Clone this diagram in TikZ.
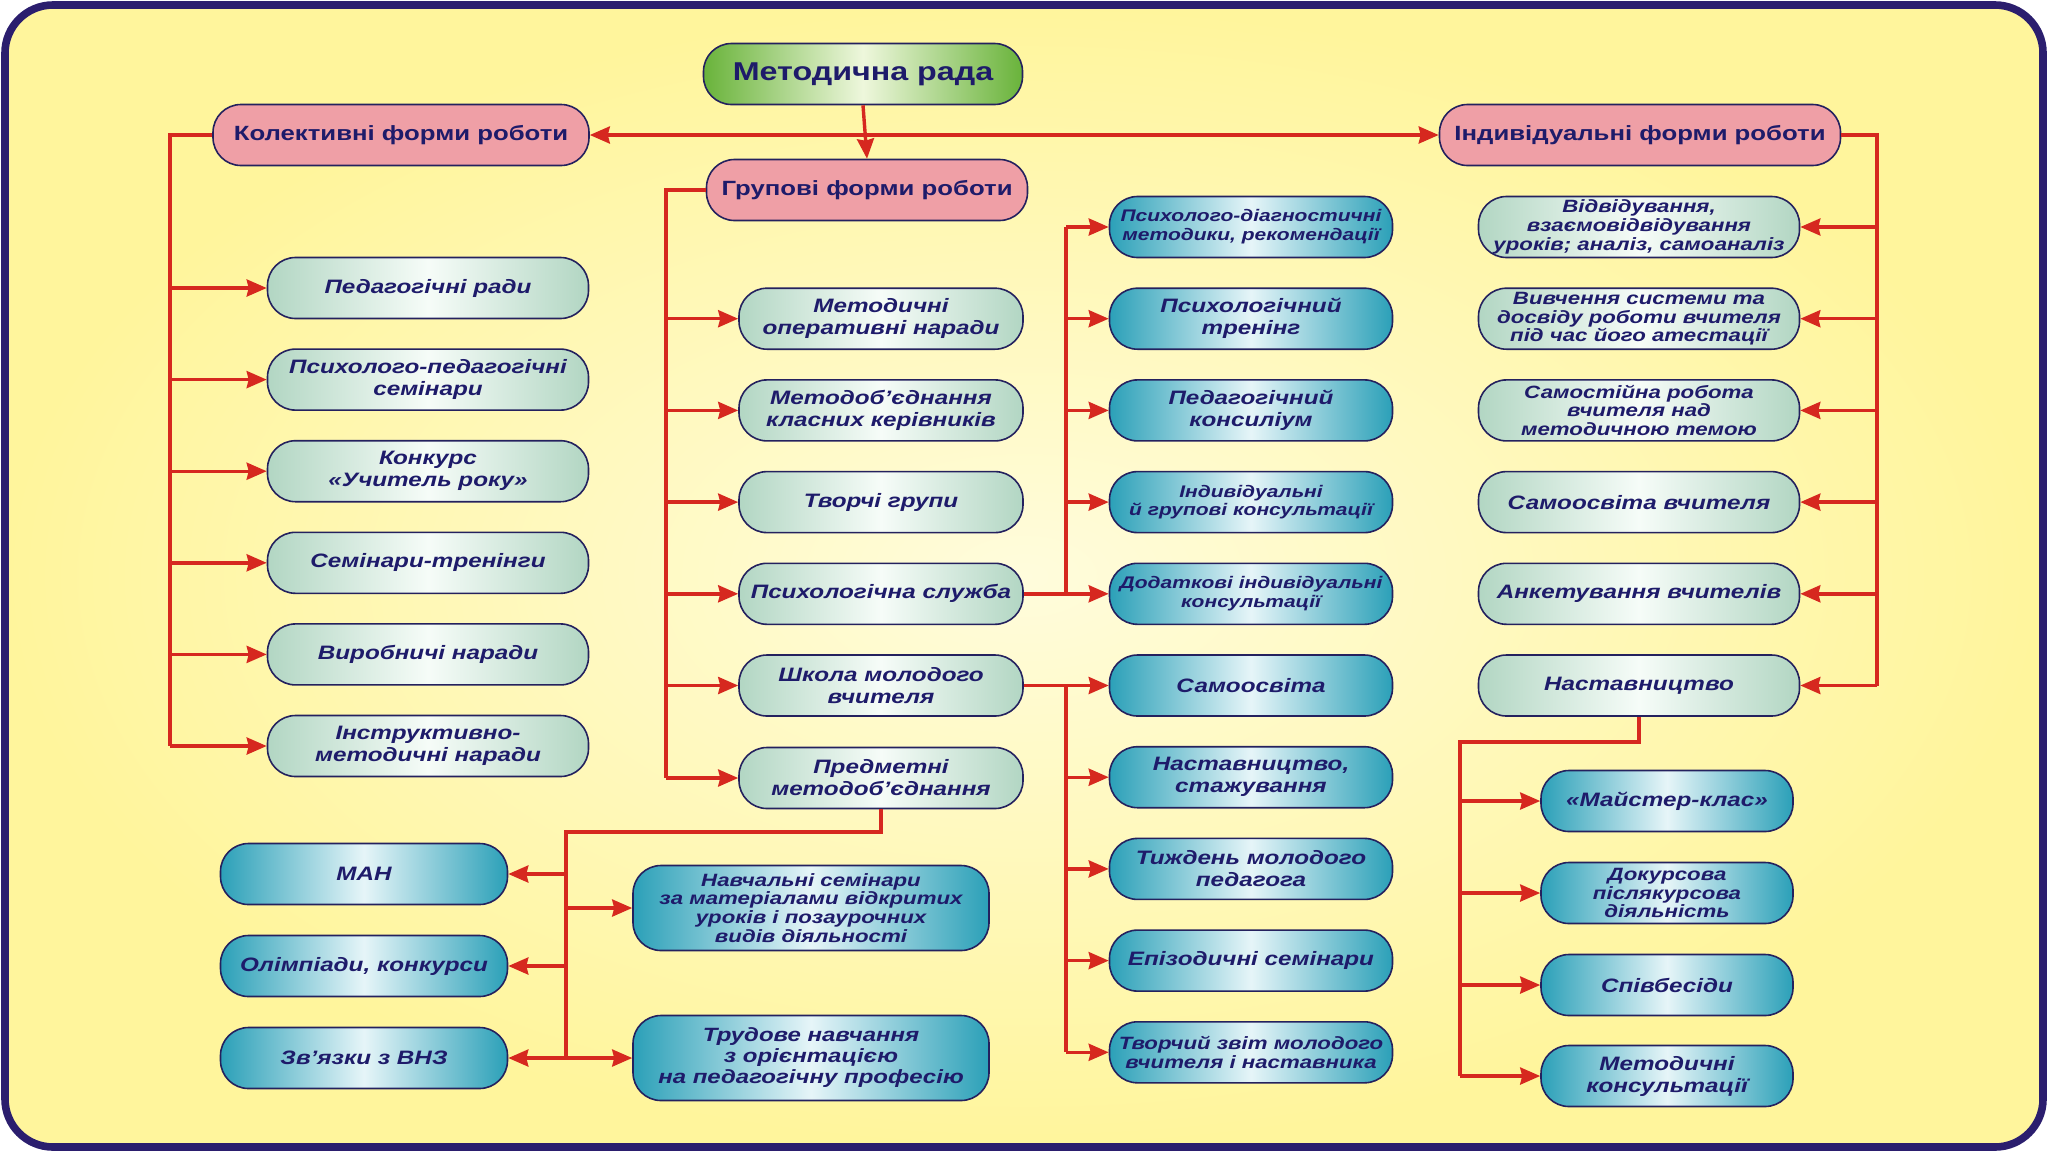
\documentclass[tikz,border=0pt]{standalone}
\usepackage{fontspec}
\setmainfont[FakeStretch=1.25]{Liberation Sans}
\usetikzlibrary{arrows.meta}
\definecolor{navy}{HTML}{1E1B6A}
\definecolor{bordc}{HTML}{24215E}
\definecolor{framec}{HTML}{2B1E6E}
\definecolor{redc}{HTML}{D6281F}
\definecolor{lg}{HTML}{B2D6C3}
\definecolor{lgc}{HTML}{F6FCF8}
\definecolor{tl}{HTML}{2BA0B8}
\definecolor{tlc}{HTML}{E6F5F8}
\definecolor{pinkc}{HTML}{EF9FA6}
\definecolor{grn}{HTML}{69B33A}
\definecolor{grnc}{HTML}{EEF7DC}
\definecolor{yel}{HTML}{FFF59C}
\definecolor{yelc}{HTML}{FFFCDC}
\newcommand\itmfont{\bfseries\itshape\fontsize{9.7}{11}\selectfont}
\newcommand\sitmfont{\bfseries\itshape\fontsize{8.9}{9.4}\selectfont}
\newcommand\ssitmfont{\bfseries\itshape\fontsize{8.4}{9.4}\selectfont}
\newcommand\hdfont{\bfseries\fontsize{10.3}{12}\selectfont}
\begin{document}
\begin{tikzpicture}[x=0.5pt,y=-0.5pt,
  box/.style={rectangle, rounded corners=14pt, draw=bordc, line width=0.8pt,
    align=center, inner sep=1pt, minimum height=30.5pt, text=navy, font=\itmfont},
  light/.style={box, left color=lg, right color=lg, middle color=lgc},
  teal/.style={box, left color=tl, right color=tl, middle color=tlc},
  head/.style={box, fill=pinkc, font=\hdfont},
  sm/.style={font=\sitmfont},
  ssm/.style={font=\ssitmfont},
  ln/.style={draw=redc, line width=1.7pt},
  arr/.style={ln, -{Stealth[length=10pt,width=8.5pt,inset=1pt]}},
  darr/.style={ln, {Stealth[length=10pt,width=8.5pt,inset=1pt]}-{Stealth[length=10pt,width=8.5pt,inset=1pt]}}
]
% page and frame
\fill[white] (0,0) rectangle (2048,1152);
\path[draw=framec, line width=3.8pt, rounded corners=24pt, inner color=yelc, outer color=yel]
  (5,5) rectangle (2043,1147);

% heads
\node[box, left color=grn, right color=grn, middle color=grnc, minimum width=159.5pt,
  font=\bfseries\fontsize{12.9}{14}\selectfont] (met) at (863,74) {Методична рада};
\node[head, minimum width=188pt] (kol) at (401,135) {Колективні форми роботи};
\node[head, minimum width=160.5pt] (grp) at (867,190) {Групові форми роботи};
\node[head, minimum width=200.5pt] (ind) at (1640,135) {Індивідуальні форми роботи};

% collective column
\begin{scope}[every node/.append style={light, minimum width=160.5pt}]
\node (k1) at (428,288) {Педагогічні ради};
\node (k2) at (428,379.6) {Психолого-педагогічні\\семінари};
\node (k3) at (428,471.2) {Конкурс\\«Учитель року»};
\node (k4) at (428,562.8) {Семінари-тренінги};
\node (k5) at (428,654.4) {Виробничі наради};
\node (k6) at (428,746) {Інструктивно-\\методичні наради};
\end{scope}

% group column
\begin{scope}[every node/.append style={light, minimum width=142pt}]
\node (g1) at (881,318.7) {Методичні\\оперативні наради};
\node (g2) at (881,410.4) {Методоб'єднання\\класних керівників};
\node (g3) at (881,502.1) {Творчі групи};
\node (g4) at (881,593.8) {Психологічна служба};
\node (g5) at (881,685.5) {Школа молодого\\вчителя};
\node (g6) at (881,778) {Предметні\\методоб'єднання};
\end{scope}

% psych / school column
\begin{scope}[every node/.append style={teal, minimum width=141.5pt}]
\node[ssm] (p1) at (1251,227) {Психолого-діагностичні\\методики, рекомендації};
\node (p2) at (1251,318.7) {Психологічний\\тренінг};
\node (p3) at (1251,410.4) {Педагогічний\\консиліум};
\node[ssm] (p4) at (1251,502.1) {Індивідуальні\\й групові консультації};
\node[ssm] (p5) at (1251,593.8) {Додаткові індивідуальні\\консультації};
\node (s1) at (1251,685.5) {Самоосвіта};
\node (s2) at (1251,777.2) {Наставництво,\\стажування};
\node (s3) at (1251,868.9) {Тиждень молодого\\педагога};
\node (s4) at (1251,960.6) {Епізодичні семінари};
\node[sm] (s5) at (1251,1052.3) {Творчий звіт молодого\\вчителя і наставника};
\end{scope}

% individual column
\begin{scope}[every node/.append style={light, minimum width=160.5pt}]
\node[sm] (i1) at (1639,227) {Відвідування,\\взаємовідвідування\\уроків; аналіз, самоаналіз};
\node[sm] (i2) at (1639,318.7) {Вивчення системи та\\досвіду роботи вчителя\\під час його атестації};
\node[sm] (i3) at (1639,410.4) {Самостійна робота\\вчителя над\\методичною темою};
\node (i4) at (1639,502.1) {Самоосвіта вчителя};
\node (i5) at (1639,593.8) {Анкетування вчителів};
\node (i6) at (1639,685.5) {Наставництво};
\end{scope}

% mentoring sub
\begin{scope}[every node/.append style={teal, minimum width=126pt}]
\node (n1) at (1667,801) {«Майстер-клас»};
\node[sm] (n2) at (1667,893) {Докурсова\\післякурсова\\діяльність};
\node (n3) at (1667,985) {Співбесіди};
\node (n4) at (1667,1076) {Методичні\\консультації};
\end{scope}

% subject sub
\begin{scope}[every node/.append style={teal, minimum width=143.5pt}]
\node (m1) at (364,874) {МАН};
\node (m2) at (364,966) {Олімпіади, конкурси};
\node (m3) at (364,1058) {Зв'язки з ВНЗ};
\end{scope}
\node[teal, sm, minimum width=178pt, minimum height=42.5pt] (r1) at (811,908)
  {Навчальні семінари\\за матеріалами відкритих\\уроків і позаурочних\\видів діяльності};
\node[teal, minimum width=178pt, minimum height=42.5pt, font=\bfseries\itshape\fontsize{9.6}{10.5}\selectfont] (r2) at (811,1058)
  {Трудове навчання\\з орієнтацією\\на педагогічну професію};

% connectors: top
\draw[arr] (met.south) -- (grp.north);
\draw[darr] (kol.east) -- (ind.west);

% collective bus
\coordinate (kb) at (170,135);
\draw[ln] (kol.west) -- (kb) -- (kb |- k6.west);
\foreach \n in {k1,k2,k3,k4,k5,k6} \draw[arr] (kb |- \n.west) -- (\n.west);

% group bus
\coordinate (gb) at (666,190);
\draw[ln] (grp.west) -- (gb) -- (gb |- g6.west);
\foreach \n in {g1,g2,g3,g4,g5,g6} \draw[arr] (gb |- \n.west) -- (\n.west);

% psych bus
\coordinate (pb) at (1066,593.8);
\draw[arr] (g4.east) -- (p5.west);
\draw[ln] (pb) -- (pb |- p1.west);
\foreach \n in {p1,p2,p3,p4} \draw[arr] (pb |- \n.west) -- (\n.west);

% school bus
\coordinate (sb) at (1066,685.5);
\draw[arr] (g5.east) -- (s1.west);
\draw[ln] (sb) -- (sb |- s5.west);
\foreach \n in {s2,s3,s4,s5} \draw[arr] (sb |- \n.west) -- (\n.west);

% individual bus
\coordinate (ib) at (1877,135);
\draw[ln] (ind.east) -- (ib) -- (ib |- i6.east);
\foreach \n in {i1,i2,i3,i4,i5,i6} \draw[arr] (ib |- \n.east) -- (\n.east);

% mentoring bus
\coordinate (nt) at (1639,742);
\coordinate (nb) at (1460,742);
\draw[ln] (i6.south) -- (nt) -- (nb) -- (nb |- n4.west);
\foreach \n in {n1,n2,n3,n4} \draw[arr] (nb |- \n.west) -- (\n.west);

% subject bus
\coordinate (gt) at (881,832);
\coordinate (mb) at (566,832);
\draw[ln] (g6.south) -- (gt) -- (mb) -- (mb |- m3.east);
\foreach \n in {m1,m2,m3} \draw[arr] (mb |- \n.east) -- (\n.east);
\foreach \n in {r1,r2} \draw[arr] (mb |- \n.west) -- (\n.west);
\end{tikzpicture}
\end{document}
